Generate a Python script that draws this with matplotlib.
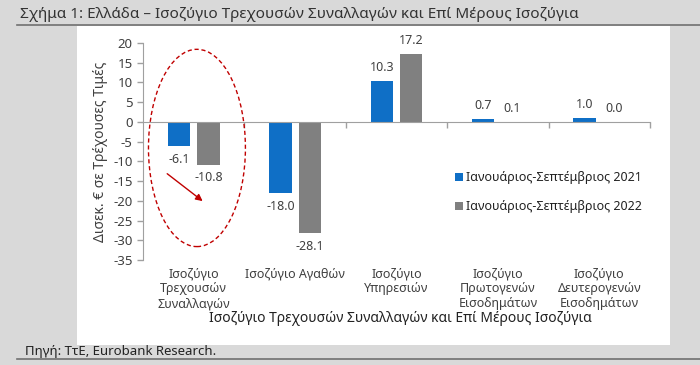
import matplotlib
matplotlib.use("Agg")
import matplotlib.pyplot as plt
from matplotlib.patches import Rectangle, Ellipse
from matplotlib.lines import Line2D

plt.rcParams['font.family'] = ['Noto Sans', 'DejaVu Sans']

categories = [["Ισοζύγιο", "Τρεχουσών", "Συναλλαγών"],
              ["Ισοζύγιο Αγαθών"],
              ["Ισοζύγιο", "Υπηρεσιών"],
              ["Ισοζύγιο", "Πρωτογενών", "Εισοδημάτων"],
              ["Ισοζύγιο", "Δευτερογενών", "Εισοδημάτων"]]
series_names = ["Ιανουάριος-Σεπτέμβριος 2021", "Ιανουάριος-Σεπτέμβριος 2022"]
values_2021 = [-6.1, -18.0, 10.3, 0.7, 1.0]
values_2022 = [-10.8, -28.1, 17.2, 0.1, 0.0]
yticks = list(range(-35, 21, 5))

W, H = 700, 365
fig = plt.figure(figsize=(7.0, 3.65), dpi=100)
bg = '#d9d9d9'
fig.patch.set_facecolor(bg)
txt = '#404040'

# white panel
fig.patches.append(Rectangle((77 / W, 1 - 345 / H), (670 - 77) / W, (345 - 26) / H,
                             transform=fig.transFigure, facecolor='white', edgecolor='none', zorder=-5))
# title and rules
fig.text(20 / W, 1 - 15 / H, "Σχήμα 1: Ελλάδα – Ισοζύγιο Τρεχουσών Συναλλαγών και Επί Μέρους Ισοζύγια",
         fontsize=11, color='#333333', va='center', ha='left')
fig.add_artist(Line2D([17 / W, 1], [1 - 25 / H, 1 - 25 / H], transform=fig.transFigure,
                      color='#707070', lw=1.2))
fig.text(25 / W, 1 - 351 / H, "Πηγή: ΤτΕ, Eurobank Research.", fontsize=9.5, color='#222222',
         va='center', ha='left')
fig.add_artist(Line2D([17 / W, 1], [1 - 359 / H, 1 - 359 / H], transform=fig.transFigure,
                      color='#707070', lw=1.2))

ax = fig.add_axes([143 / W, 1 - 260 / H, (650 - 143) / W, (260 - 43) / H])
ax.set_zorder(3)
ax.set_facecolor('none')
ax.set_xlim(-0.5, 4.5)
ax.set_ylim(-35, 20)

x = list(range(len(categories)))
bw = 0.22
off = 0.145
blue = '#0F6FC6'
grey = '#808080'
b1 = ax.bar([i - off for i in x], values_2021, bw, color=blue, label=series_names[0], zorder=3)
b2 = ax.bar([i + off for i in x], values_2022, bw, color=grey, label=series_names[1], zorder=3)

for bars, vals in ((b1, values_2021), (b2, values_2022)):
    for r, v in zip(bars, vals):
        cx = r.get_x() + r.get_width() / 2
        if v < 0:
            ax.annotate(f"{v:.1f}", (cx, v), xytext=(0, -5), textcoords='offset points',
                        ha='center', va='top', fontsize=9, color=txt)
        else:
            ax.annotate(f"{v:.1f}", (cx, v), xytext=(0, 5), textcoords='offset points',
                        ha='center', va='bottom', fontsize=9, color=txt)

for s in ('top', 'right'):
    ax.spines[s].set_visible(False)
ax.spines['left'].set_color('#a0a0a0')
ax.spines['bottom'].set_position(('data', 0))
ax.spines['bottom'].set_color('#a0a0a0')
ax.spines['bottom'].set_zorder(4)
ax.set_yticks(yticks)
ax.set_yticklabels([str(t) for t in yticks])
ax.tick_params(axis='y', colors='#a0a0a0', labelcolor=txt, labelsize=9.5, length=4, width=1)
ax.set_xticks([i + 0.5 for i in range(len(categories) - 1)] + [4.5])
ax.set_xticklabels([])
ax.tick_params(axis='x', colors='#a0a0a0', length=4, width=1, direction='out')

for i, lines in enumerate(categories):
    ax.text(i, -36.8, "\n".join(lines), ha='center', va='top', fontsize=9, color=txt,
            linespacing=1.2, clip_on=False)

ax.set_ylabel("Δισεκ. € σε Τρέχουσες Τιμές", fontsize=10, color=txt, labelpad=4)
fig.text(400 / W, 1 - 318 / H, "Ισοζύγιο Τρεχουσών Συναλλαγών και Επί Μέρους Ισοζύγια",
         fontsize=10, color='#222222', ha='center', va='center')

leg = ax.legend(loc='upper left', bbox_to_anchor=((450 - 143) / (650 - 143), (260 - 166) / (260 - 43)),
                frameon=False, fontsize=9, handlelength=0.6, handleheight=0.6, handletextpad=0.3,
                labelspacing=1.3, borderaxespad=0)
for t in leg.get_texts():
    t.set_color('#222222')

# dashed ellipse and arrow
ell = Ellipse((0.032, -6.6), 0.956, 50.0, fill=False, edgecolor='#C00000', linestyle=(0, (3, 2)),
              lw=1.0, zorder=5, clip_on=False)
ax.add_patch(ell)
ax.annotate("", xy=(0.11, -20.5), xytext=(-0.283, -12.7),
            arrowprops=dict(arrowstyle='-|>', color='#C00000', lw=1.0, mutation_scale=10))

fig.savefig("out.png", dpi=100, facecolor=fig.get_facecolor())
